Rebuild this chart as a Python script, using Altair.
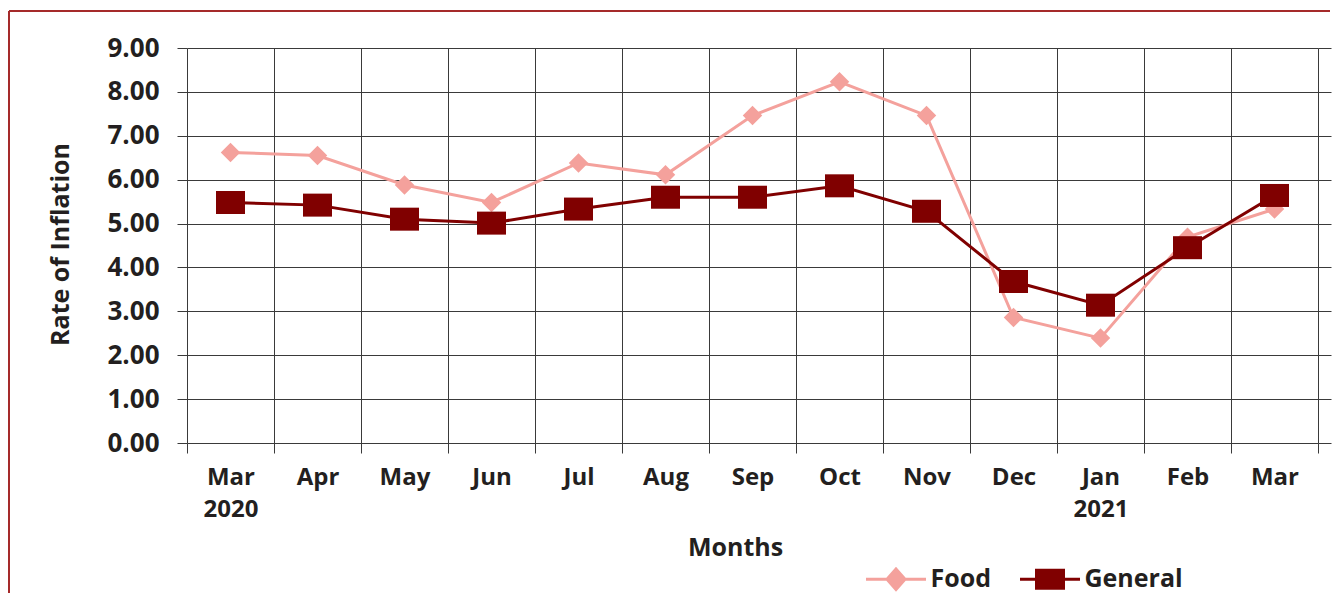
import altair as alt
import pandas as pd

months = ["Mar 2020", "Apr", "May", "Jun", "Jul", "Aug", "Sep", "Oct", "Nov",
          "Dec", "Jan 2021", "Feb", "Mar"]
food = [6.62, 6.55, 5.88, 5.48, 6.38, 6.11, 7.46, 8.23, 7.46, 2.86, 2.39, 4.69, 5.33]
general = [5.48, 5.42, 5.10, 5.01, 5.33, 5.60, 5.60, 5.86, 5.28, 3.68, 3.14, 4.45, 5.64]
series_names = ["Food", "General"]
y_ticks = [0, 1, 2, 3, 4, 5, 6, 7, 8, 9]

PINK = "#F4A19C"
MAROON = "#800000"
TEXT = "#231F20"
GRID = "#3A3A3A"
FONT = "Open Sans"

rows = []
for m, f, g in zip(months, food, general):
    rows.append({"month": m, "series": "Food", "value": f})
    rows.append({"month": m, "series": "General", "value": g})
df = pd.DataFrame(rows)

DIAMOND = "M0,-0.78L0.78,0L0,0.78L-0.78,0Z"
RECT = "M-1.16,-0.92L1.16,-0.92L1.16,0.92L-1.16,0.92Z"
LEG_FOOD = "M-2.4,-0.12L2.4,-0.12L2.4,0.12L-2.4,0.12Z M0,-1L0.88,0L0,1L-0.88,0Z"
LEG_GEN = "M-2.4,-0.12L2.4,-0.12L2.4,0.12L-2.4,0.12Z M-1.2,-0.84L1.2,-0.84L1.2,0.84L-1.2,0.84Z"

x_scale = alt.Scale(type="band", domain=months, paddingInner=0, paddingOuter=0)
y_scale = alt.Scale(domain=[0, 9], nice=False, zero=True)

x_axis = alt.Axis(
    title="Months", labelExpr="split(datum.label, ' ')", labelAngle=0,
    labelAlign="center", labelLineHeight=32, labelPadding=12,
    labelFont=FONT, labelFontSize=24, labelFontWeight="bold", labelColor=TEXT,
    tickBand="extent", ticks=True, tickSize=10, tickColor=GRID, tickWidth=1,
    grid=True, gridColor=GRID, gridWidth=1, gridOpacity=1, domain=False,
    titleFont=FONT, titleFontSize=25, titleFontWeight="bold", titleColor=TEXT,
    titleX=548, titleY=112, titleBaseline="alphabetic", titleAlign="center",
)
y_axis = alt.Axis(
    title="Rate of Inflation", values=y_ticks, format=".2f",
    labelFont=FONT, labelFontSize=26, labelFontWeight="bold", labelColor=TEXT,
    labelPadding=18, tickSize=10, tickColor=GRID, tickWidth=1,
    grid=True, gridColor=GRID, gridWidth=1, gridOpacity=1, domain=False,
    titleFont=FONT, titleFontSize=25, titleFontWeight="bold", titleColor=TEXT,
    titleX=-119, titleY=196, titleBaseline="alphabetic", titleAlign="center",
    titleAngle=270,
)
y_axis_right = alt.Axis(
    orient="right", title=None, values=y_ticks, labels=False, tickSize=13,
    tickColor=GRID, tickWidth=1, grid=False, domain=False,
)

base = alt.Chart(df)

def xenc(axis=None):
    return alt.X("month:N", sort=months, scale=x_scale, axis=axis)

def yenc(axis=None):
    return alt.Y("value:Q", scale=y_scale, axis=axis)

food_line = base.transform_filter("datum.series == 'Food'").mark_line(
    color=PINK, strokeWidth=3).encode(x=xenc(x_axis), y=yenc(y_axis))
food_pts = base.transform_filter("datum.series == 'Food'").mark_point(
    shape=DIAMOND, filled=True, size=625, color=PINK, opacity=1
).encode(x=xenc(), y=yenc())
gen_line = base.transform_filter("datum.series == 'General'").mark_line(
    color=MAROON, strokeWidth=3).encode(x=xenc(), y=yenc())
gen_pts = base.transform_filter("datum.series == 'General'").mark_point(
    shape=RECT, filled=True, size=625, color=MAROON, opacity=1
).encode(x=xenc(), y=yenc(y_axis_right))

leg = alt.Legend(
    title=None, orient="none", legendX=696.5, legendY=518.5, direction="horizontal",
    labelFont=FONT, labelFontSize=25, labelFontWeight="bold", labelColor=TEXT,
    symbolSize=625, labelOffset=22, columnPadding=28, padding=0,
    symbolStrokeWidth=0, symbolOpacity=1,
)
legend_layer = base.transform_filter("false").mark_point(
    filled=True, size=625, opacity=1
).encode(
    x=xenc(), y=yenc(),
    fill=alt.Fill("series:N", scale=alt.Scale(domain=series_names, range=[PINK, MAROON]), legend=leg),
    shape=alt.Shape("series:N", scale=alt.Scale(domain=series_names, range=[LEG_FOOD, LEG_GEN]), legend=leg),
)

border_data = alt.Data(values=[{"k": 1}])
border_left = alt.Chart(border_data).mark_rule(color="#A52A2A", strokeWidth=2).encode(
    x=alt.value(-178), y=alt.value(-37), y2=alt.value(545))
border_top = alt.Chart(border_data).mark_rule(color="#A52A2A", strokeWidth=2).encode(
    x=alt.value(-178), x2=alt.value(1143), y=alt.value(-37))

chart = alt.layer(
    food_line, food_pts, gen_line, gen_pts, legend_layer, border_left, border_top
).resolve_axis(x="independent", y="independent").properties(
    width=1131, height=395,
    padding={"left": 0, "top": 2, "right": 0, "bottom": 0},
    background="white",
).configure_view(stroke=None)

chart.save("out.html", embed_options={"renderer": "svg", "actions": False})
